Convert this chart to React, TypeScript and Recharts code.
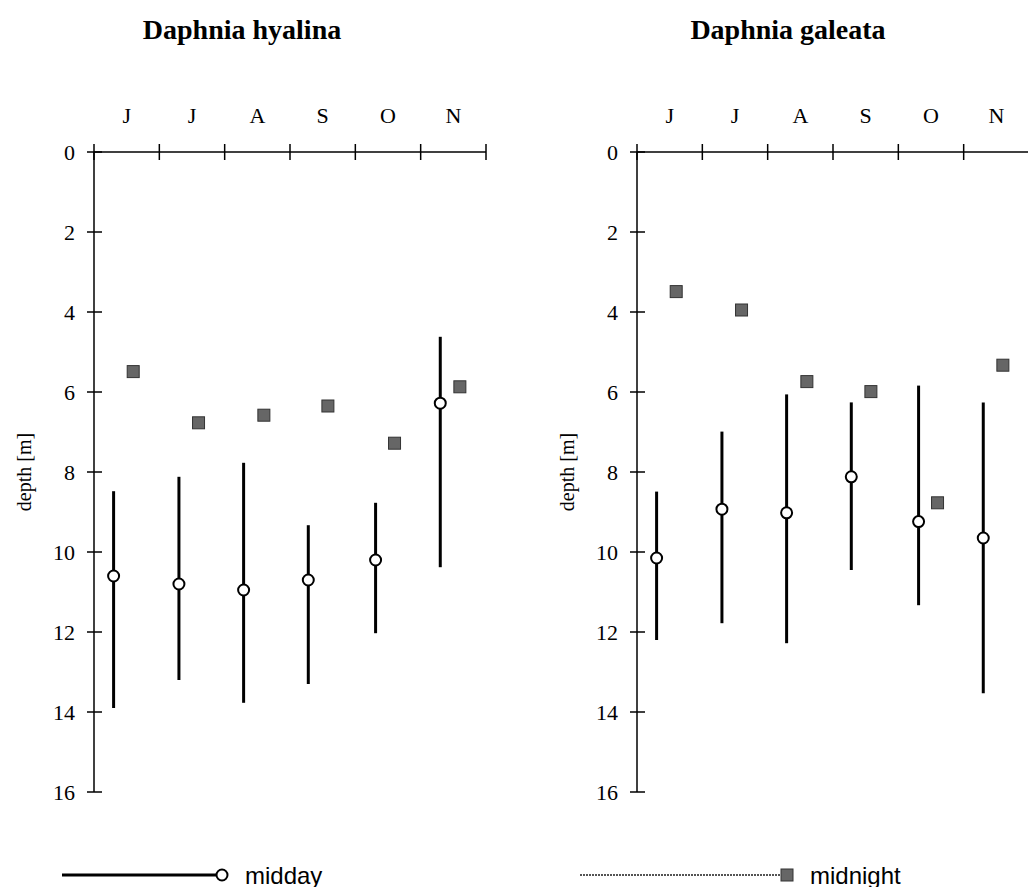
import { ScatterChart, Scatter, XAxis, YAxis, ErrorBar } from "recharts";

const months = ["J", "J", "A", "S", "O", "N"];
const depthTicks = [0, 2, 4, 6, 8, 10, 12, 14, 16];

// sampling time, in months from the start of June
const middayTime = [0.3, 1.3, 2.29, 3.28, 4.31, 5.3];
const midnightTime = [0.6, 1.6, 2.6, 3.58, 4.6, 5.6];

// Daphnia hyalina
const hyalinaMidday = [10.6, 10.8, 10.95, 10.7, 10.2, 6.28];
const hyalinaTop = [8.48, 8.12, 7.77, 9.33, 8.77, 4.62];
const hyalinaBottom = [13.9, 13.2, 13.77, 13.3, 12.03, 10.38];
const hyalinaMidnight = [5.49, 6.77, 6.58, 6.35, 7.28, 5.87];

// Daphnia galeata
const galeataMidday = [10.15, 8.93, 9.02, 8.12, 9.24, 9.65];
const galeataTop = [8.49, 6.99, 6.06, 6.26, 5.84, 6.26];
const galeataBottom = [12.2, 11.78, 12.28, 10.45, 11.33, 13.53];
const galeataMidnight = [3.49, 3.95, 5.74, 5.99, 8.77, 5.33];

const serif = "'Liberation Serif', 'Times New Roman', serif";
const sans = "'Liberation Sans', Arial, sans-serif";

const xTicks = months.flatMap((_, i) => [i, i + 0.5]).concat(months.length);

function MonthTick(props: any) {
  const { x, y, payload } = props;
  const v = payload.value;
  if (Number.isInteger(v)) {
    return <line x1={x} x2={x} y1={y - 8} y2={y + 8} stroke="#000" strokeWidth={1.5} />;
  }
  return (
    <text x={x} y={y - 37} textAnchor="middle" dominantBaseline="central" fontFamily={serif} fontSize={22} fill="#000">
      {months[Math.floor(v)]}
    </text>
  );
}

function DepthTick(props: any) {
  const { x, y, payload } = props;
  return (
    <g>
      <line x1={x - 7} x2={x + 8} y1={y} y2={y} stroke="#000" strokeWidth={1.5} />
      <text x={x - 19} y={y} textAnchor="end" dominantBaseline="central" fontFamily={serif} fontSize={22} fill="#000">
        {payload.value}
      </text>
    </g>
  );
}

const OpenCircle = (p: any) => <circle cx={p.cx} cy={p.cy} r={5.5} fill="#fff" stroke="#000" strokeWidth={2} />;
const GreySquare = (p: any) => (
  <rect x={p.cx - 6} y={p.cy - 6} width={12} height={12} fill="#666" stroke="#333" strokeWidth={1} />
);

function Panel({ midday, top, bottom, midnight }: { midday: number[]; top: number[]; bottom: number[]; midnight: number[] }) {
  const dayData = midday.map((d, i) => ({ t: middayTime[i], d, err: [d - top[i], bottom[i] - d] }));
  const nightData = midnight.map((d, i) => ({ t: midnightTime[i], d }));
  return (
    <ScatterChart width={514} height={810} margin={{ top: 102, right: 28, bottom: 18, left: 0 }}>
      <XAxis
        type="number"
        dataKey="t"
        orientation="top"
        domain={[0, 6]}
        ticks={xTicks}
        interval={0}
        height={50}
        tickLine={false}
        tickSize={0}
        tickMargin={0}
        tick={<MonthTick />}
        axisLine={{ stroke: "#000", strokeWidth: 1.5 }}
      />
      <YAxis
        type="number"
        dataKey="d"
        reversed
        domain={[0, 16]}
        ticks={depthTicks}
        interval={0}
        width={94}
        tickLine={false}
        tickSize={0}
        tickMargin={0}
        tick={<DepthTick />}
        axisLine={{ stroke: "#000", strokeWidth: 1.5 }}
        label={{
          value: "depth [m]",
          angle: -90,
          position: "insideLeft",
          offset: 24,
          style: { textAnchor: "middle", fontFamily: serif, fontSize: 20, fill: "#000" },
        }}
      />
      <Scatter data={dayData} shape={OpenCircle} isAnimationActive={false}>
        <ErrorBar dataKey="err" direction="y" width={0} stroke="#000" strokeWidth={3} isAnimationActive={false} />
      </Scatter>
      <Scatter data={nightData} shape={GreySquare} isAnimationActive={false} />
    </ScatterChart>
  );
}

export default function App() {
  return (
    <div style={{ position: "absolute", left: 0, top: 0, width: 1028, height: 887, overflow: "hidden", background: "#fff" }}>
      <svg width={1028} height={887} style={{ position: "absolute", left: 0, top: 0 }}>
        <text x={242} y={29} textAnchor="middle" dominantBaseline="central" fontFamily={serif} fontWeight="bold" fontSize={28}>
          Daphnia hyalina
        </text>
        <text x={788} y={29} textAnchor="middle" dominantBaseline="central" fontFamily={serif} fontWeight="bold" fontSize={28}>
          Daphnia galeata
        </text>
        <line x1={62} x2={216} y1={875} y2={875} stroke="#000" strokeWidth={3} />
        <circle cx={222} cy={875} r={5.5} fill="#fff" stroke="#000" strokeWidth={2} />
        <text x={245} y={875} dominantBaseline="central" fontFamily={sans} fontSize={24}>
          midday
        </text>
        <line x1={580} x2={780} y1={875} y2={875} stroke="#555" strokeWidth={2} strokeDasharray="2 1" />
        <rect x={781} y={869} width={12} height={12} fill="#666" stroke="#333" strokeWidth={1} />
        <text x={810} y={875} dominantBaseline="central" fontFamily={sans} fontSize={24}>
          midnight
        </text>
      </svg>
      <div style={{ position: "absolute", left: 0, top: 0 }}>
        <Panel midday={hyalinaMidday} top={hyalinaTop} bottom={hyalinaBottom} midnight={hyalinaMidnight} />
      </div>
      <div style={{ position: "absolute", left: 543, top: 0 }}>
        <Panel midday={galeataMidday} top={galeataTop} bottom={galeataBottom} midnight={galeataMidnight} />
      </div>
    </div>
  );
}
